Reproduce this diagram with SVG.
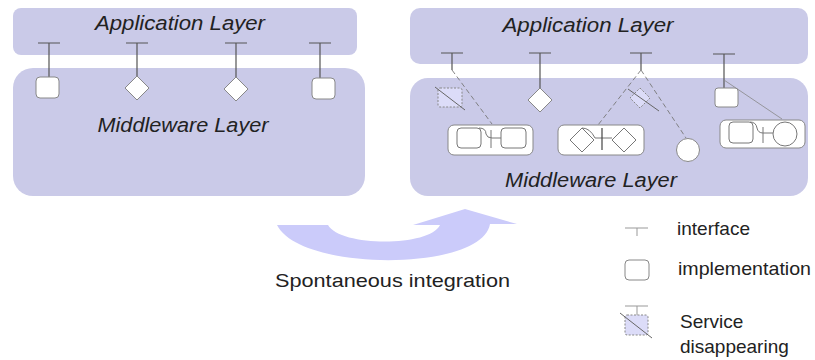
<svg xmlns="http://www.w3.org/2000/svg" width="815" height="360" viewBox="0 0 815 360">
<style>
.layer{fill:#cacae8}
.lbl{font-family:"Liberation Sans",Arial,sans-serif;font-style:italic;font-size:20.5px;fill:#222}
.txt{font-family:"Liberation Sans",Arial,sans-serif;font-size:19px;fill:#222}
.t{stroke:#555;stroke-width:1.2;fill:none}
.el{fill:#fff;stroke:#888;stroke-width:1}
.gone{fill:#dcdcf8;stroke:#888;stroke-width:1;stroke-dasharray:2 1.5}
.slash{stroke:#666;stroke-width:1;fill:none}
.wire{stroke:#888;stroke-width:0.8;fill:none}
.dash{stroke:#777;stroke-width:0.9;fill:none;stroke-dasharray:5 3}
.in{fill:none;stroke:#777;stroke-width:1}
</style>
<rect width="815" height="360" fill="#fff"/>
<g id="left-app"><rect class="layer" x="13" y="8" width="344" height="47" rx="8"/><text class="lbl" x="180" y="30" text-anchor="middle" textLength="170" lengthAdjust="spacingAndGlyphs">Application Layer</text></g>
<g id="left-mw"><rect class="layer" x="13" y="68" width="352" height="128" rx="20"/><text class="lbl" x="183" y="132" text-anchor="middle" textLength="171" lengthAdjust="spacingAndGlyphs">Middleware Layer</text></g>
<g id="right-app"><rect class="layer" x="410" y="8" width="398" height="56" rx="10"/><text class="lbl" x="588" y="32" text-anchor="middle" textLength="171" lengthAdjust="spacingAndGlyphs">Application Layer</text></g>
<g id="right-mw"><rect class="layer" x="410" y="78" width="398" height="118" rx="18"/><text class="lbl" x="591" y="187" text-anchor="middle" textLength="172" lengthAdjust="spacingAndGlyphs">Middleware Layer</text></g>
<g id="connectors">
<path class="t" d="M38 43H60M49 43V77M126 43H148M137 43V76M225 43H247M236 43V77M309 43H331M320 43V78"/>
<path class="t" d="M441 53H463M452 53V70M529 53H551M540 53V88M630 53H652M641 53V70M713 54H735M724 54V88"/>
<path class="dash" d="M452 70L492 124"/>
<path class="dash" d="M641 70L598 125M641 70L686 138"/>
<path class="wire" d="M724 80L782 119"/>
</g>
<g id="left-impl">
<rect class="el" x="36" y="77" width="23" height="21" rx="4"/>
<polygon class="el" points="137,76 149,88 137,100 125,88"/>
<polygon class="el" points="236,77 248,89 236,101 224,89"/>
<rect class="el" x="312" y="78" width="23" height="21" rx="4"/>
</g>
<g id="right-gone-sq"><rect class="gone" x="438" y="88" width="24" height="19" rx="2"/><path class="slash" d="M435 87L465 110"/></g>
<g id="right-diamond"><polygon class="el" points="540,88 552,100 540,112 528,100"/></g>
<g id="right-gone-diamond"><polygon class="gone" points="640,88 650,98 640,108 630,98"/><path class="slash" d="M628 89L659 111"/></g>
<g id="right-sq"><rect class="el" x="715" y="88" width="23" height="19" rx="3"/></g>
<g id="right-circle"><circle class="el" cx="688" cy="150" r="11.5"/></g>
<g id="comp1">
<rect class="el" x="448" y="125" width="85" height="30" rx="6"/>
<rect class="in" x="457" y="128" width="24" height="20" rx="4"/>
<path class="in" d="M479 128Q486 128 486 134Q487 138 492 138H501M491 130V148"/>
<rect class="in" x="501" y="128" width="25" height="20" rx="4"/>
</g>
<g id="comp2">
<rect class="el" x="558" y="125" width="86" height="30" rx="6"/>
<polygon class="in" points="582,128 594,140 582,152 570,140"/>
<path class="in" d="M582 128Q590 128 595 138H612"/>
<path d="M602 128V150" stroke="#444" stroke-width="1.2"/>
<polygon class="in" points="624,128 636,140 624,152 612,140"/>
</g>
<g id="comp3">
<rect class="el" x="720" y="120" width="85" height="28" rx="6"/>
<rect class="in" x="729" y="122" width="24" height="21" rx="4"/>
<path class="in" d="M750 122Q756 122 757 128Q758 133 763 133H773M763 127V143"/>
<circle class="in" cx="785" cy="134" r="12"/>
</g>
<g id="arrow"><path fill="#cbcbfa" d="M277 225L328 225C340 247 430 247 440 225L413 225L465 209L517 224L490 224C482 272 300 272 277 225Z"/></g>
<g id="caption"><text class="txt" x="275" y="287" font-size="21" textLength="235" lengthAdjust="spacingAndGlyphs">Spontaneous integration</text></g>
<g id="legend">
<path d="M625 228H648M637 228V236" stroke="#999" stroke-width="1" fill="none"/>
<text class="txt" x="677" y="235" textLength="73" lengthAdjust="spacingAndGlyphs">interface</text>
<rect x="625" y="260" width="24" height="20" rx="4" fill="#fff" stroke="#888"/>
<text class="txt" x="678" y="275" textLength="133" lengthAdjust="spacingAndGlyphs">implementation</text>
<path d="M625 306H648M637 306V315" stroke="#999" stroke-width="1" fill="none"/>
<rect class="gone" x="625" y="315" width="23" height="20" rx="2"/>
<path class="slash" d="M620 313L652 338"/>
<text class="txt" x="680" y="328">Service</text>
<text class="txt" x="680" y="353">disappearing</text>
</g>
</svg>
